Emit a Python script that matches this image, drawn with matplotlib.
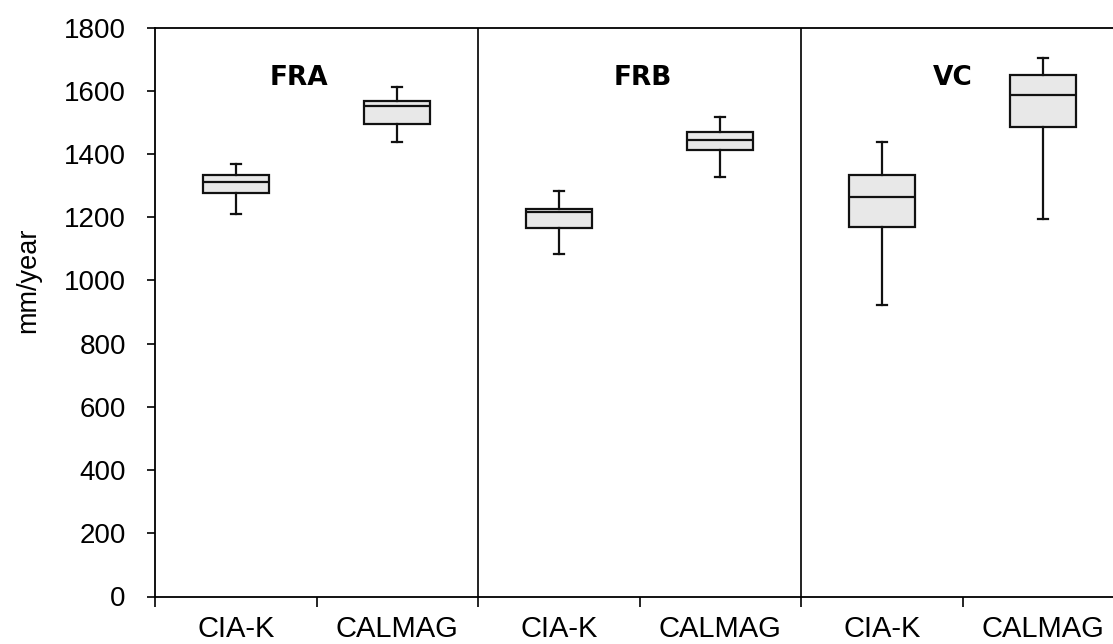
import matplotlib
matplotlib.use("Agg")
import matplotlib.pyplot as plt

# annual values (mm/year) per site and method
sites = ["FRA", "FRB", "VC"]
methods = ["CIA-K", "CALMAG"]
whisker_low = [1210, 1437, 1083, 1327, 922, 1195]
q1 = [1277, 1496, 1166, 1412, 1168, 1485]
median = [1310, 1552, 1215, 1444, 1264, 1588]
q3 = [1333, 1567, 1225, 1469, 1333, 1649]
whisker_high = [1368, 1613, 1284, 1516, 1437, 1703]

stats = []
for i in range(len(median)):
    stats.append({"whislo": whisker_low[i], "q1": q1[i], "med": median[i],
                  "q3": q3[i], "whishi": whisker_high[i], "fliers": []})

fig = plt.figure(figsize=(11.13, 6.44), dpi=100)
ax = fig.add_axes([155 / 1113, 47.5 / 644, 969 / 1113, 569 / 644])

positions = [i + 0.5 for i in range(len(stats))]
lw = 1.6
ax.bxp(stats, positions=positions, widths=0.41, capwidths=0.06,
       patch_artist=True, showfliers=False,
       boxprops=dict(facecolor="#e8e8e8", edgecolor="#111111", linewidth=lw),
       medianprops=dict(color="#111111", linewidth=lw),
       whiskerprops=dict(color="#111111", linewidth=lw),
       capprops=dict(color="#111111", linewidth=lw))

ax.set_xlim(0, 6)
ax.set_ylim(0, 1800)
ax.set_yticks(range(0, 1801, 200))
ax.set_xticks(range(0, 7))
ax.set_xticklabels([])
ax.set_xticks(positions, minor=True)
ax.set_xticklabels(methods * 3, minor=True, fontsize=21, family="Liberation Sans")
ax.tick_params(axis="x", which="minor", length=0, pad=13)
ax.tick_params(axis="x", which="major", direction="out", length=7, width=1.2)
ax.tick_params(axis="y", direction="out", length=6, width=1.2, pad=15)
for lab in ax.get_yticklabels():
    lab.set_family("Liberation Sans")
    lab.set_fontsize(20)

for s in ["left", "bottom", "top"]:
    ax.spines[s].set_linewidth(1.3)
ax.spines["right"].set_visible(False)

# panel separators
for x in (2, 4):
    ax.axvline(x, color="#111111", linewidth=1.3)

title_x = [0.89, 3.02, 4.94]
for name, x in zip(sites, title_x):
    ax.text(x, 1641, name, ha="center", va="center", fontsize=19,
            fontweight="bold", family="DejaVu Sans")

ax.set_ylabel("mm/year", fontsize=19.5, family="Liberation Sans")
ax.yaxis.set_label_coords(-0.117, 0.555)

fig.savefig("out.png", dpi=100)
